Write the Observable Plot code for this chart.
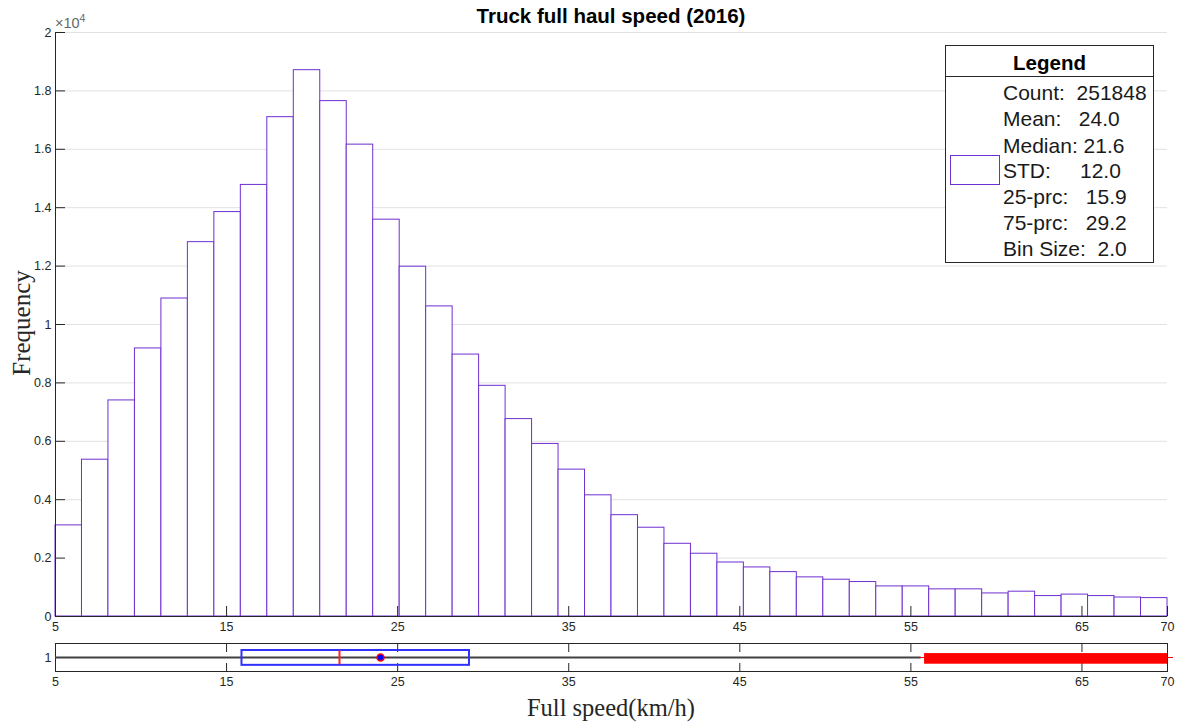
<!DOCTYPE html>
<html><head><meta charset="utf-8">
<script src="https://cdn.jsdelivr.net/npm/d3@7"></script>
<script src="https://cdn.jsdelivr.net/npm/@observablehq/plot@0.6"></script>
<style>
html,body{margin:0;padding:0;background:#fff;overflow:hidden}
#wrap{position:relative;width:1182px;height:725px;font-family:"Liberation Sans",Arial,Helvetica,sans-serif;color:#262626;background:#fff}
.abs{position:absolute;white-space:pre}
#main{position:absolute;left:0;top:0}
#box{position:absolute;left:0;top:636px}
#title{left:55px;width:1112px;top:5.6px;text-align:center;font-weight:bold;font-size:20.5px;line-height:20.5px;color:#000}
#exp{left:55px;top:16px;font-size:14.5px;line-height:14px;color:#666}
#exp sup{font-size:10.5px;vertical-align:6px;line-height:0}
#ylab{left:21px;top:323px;transform:translate(-50%,-50%) rotate(-90deg);font-family:"Liberation Serif","Times New Roman",serif;font-size:25px;line-height:25px;color:#262626}
#xlab{left:55px;width:1112px;top:696px;text-align:center;font-family:"Liberation Serif","Times New Roman",serif;font-size:24.5px;line-height:24px;color:#262626}
#legend{left:945px;top:45px;width:209px;height:218px;box-sizing:border-box;border:1px solid #262626;background:#fff}
#legdiv{left:945px;top:76px;width:209px;height:1px;background:#262626}
#legtitle{left:945px;width:209px;top:51px;text-align:center;font-weight:bold;font-size:20.5px;line-height:24px;color:#000}
.row{left:1003px;font-size:21px;line-height:24px;color:#1a1a1a}
#swatch{left:950px;top:155px;width:50px;height:30px;box-sizing:border-box;border:1.5px solid #6f2fd0;background:#fff}
</style></head><body>
<div id="wrap">
  <div id="main"></div>
  <div id="box"></div>
  <div id="title" class="abs"></div>
  <div id="exp" class="abs">×10<sup>4</sup></div>
  <div id="ylab" class="abs"></div>
  <div id="xlab" class="abs"></div>
  <div id="legend" class="abs"></div>
  <div id="legdiv" class="abs"></div>
  <div id="legtitle" class="abs"></div>
  <div id="swatch" class="abs"></div>
</div>
<script>
// ---- data ----
const titleText = "Truck full haul speed (2016)";
const yLabel = "Frequency";
const xLabel = "Full speed(km/h)";
const binEdges = [5, 6.548, 8.095, 9.643, 11.190, 12.738, 14.286, 15.833, 17.381, 18.929, 20.476,
  22.024, 23.571, 25.119, 26.667, 28.214, 29.762, 31.310, 32.857, 34.405, 35.952,
  37.500, 39.048, 40.595, 42.143, 43.690, 45.238, 46.786, 48.333, 49.881, 51.429,
  52.976, 54.524, 56.071, 57.619, 59.167, 60.714, 62.262, 63.810, 65.357, 66.905, 68.452, 70];
const counts = [3120, 5370, 7400, 9180, 10890, 12820, 13850, 14780, 17100, 18710, 17650,
  16160, 13590, 11980, 10620, 8970, 7900, 6760, 5910, 5030, 4150, 3470, 3040, 2490,
  2150, 1850, 1680, 1520, 1340, 1260, 1180, 1030, 1030, 930, 930, 790, 850, 700, 750,
  700, 650, 630];
const yTicks = [0, 2000, 4000, 6000, 8000, 10000, 12000, 14000, 16000, 18000, 20000];
const xTicks = [5, 15, 25, 35, 45, 55, 65, 70];
const whiskerLow = 5, q1 = 15.9, median = 21.6, mean = 24.0, q3 = 29.2, whiskerHigh = 55.6;
const outlierStart = 55.8, outlierEnd = 70;
const legendTitle = "Legend";
const legendRows = ["Count:  251848", "Mean:   24.0", "Median: 21.6", "STD:     12.0",
  "25-prc:   15.9", "75-prc:   29.2", "Bin Size:  2.0"];
const legendRowCenters = [92.8, 119, 145.7, 171, 196.7, 222.7, 249.3];

// ---- text ----
document.getElementById("title").textContent = titleText;
document.getElementById("ylab").textContent = yLabel;
document.getElementById("xlab").textContent = xLabel;
document.getElementById("legtitle").textContent = legendTitle;
const wrap = document.getElementById("wrap");
legendRows.forEach((t, i) => {
  const d = document.createElement("div");
  d.className = "abs row";
  d.style.top = (legendRowCenters[i] - 11.9) + "px";
  d.textContent = t;
  wrap.appendChild(d);
});

const style = {fontFamily: "'Liberation Sans', Arial, Helvetica, sans-serif", fontSize: "12.5px", color: "#262626", background: "transparent", overflow: "visible"};
const bins = counts.map((c, i) => ({x1: binEdges[i], x2: binEdges[i + 1], count: c}));
const barStroke = "#6f2fd0";

const main = Plot.plot({
  width: 1182, height: 636,
  marginLeft: 55, marginRight: 15, marginTop: 32, marginBottom: 20,
  x: {domain: [5, 70]},
  y: {domain: [0, 20000]},
  style,
  marks: [
    Plot.gridY(yTicks.slice(1), {stroke: "#e2e2e2", strokeOpacity: 1}),
    Plot.rectY(bins, {x1: "x1", x2: "x2", y: "count", fill: "white", stroke: barStroke, strokeWidth: 1}),
    Plot.ruleX([5], {stroke: "#262626"}),
    Plot.ruleY([0], {stroke: "#262626"}),
    Plot.axisY(yTicks, {tickSize: -10, tickPadding: 14, tickFormat: d => String(d / 1e4), label: null}),
    Plot.axisX(xTicks, {tickSize: -10, tickPadding: 16, tickFormat: d => String(d), label: null})
  ]
});
document.getElementById("main").appendChild(main);

const box = Plot.plot({
  width: 1182, height: 89,
  marginLeft: 55, marginRight: 15, marginTop: 7, marginBottom: 54,
  x: {domain: [5, 70]},
  y: {domain: [0.5, 1.5]},
  style,
  marks: [
    Plot.frame({stroke: "#262626"}),
    Plot.axisX(xTicks, {anchor: "top", tickSize: -8, tickFormat: () => "", label: null}),
    Plot.axisX(xTicks, {anchor: "bottom", tickSize: -8, tickPadding: 14, tickFormat: d => String(d), label: null}),
    Plot.axisY([1], {tickSize: -10, tickPadding: 14, tickFormat: d => String(d), label: null}),
    Plot.ruleY([1], {x1: whiskerLow, x2: whiskerHigh, stroke: "#404040", strokeWidth: 2}),
    Plot.ruleY([1], {x1: outlierStart - 0.3, x2: outlierEnd + 0.35, stroke: "#ff0000", strokeWidth: 1}),
    Plot.rect([outlierStart], {x1: outlierStart, x2: outlierEnd, y1: 0.76, y2: 1.14, fill: "#ff0000"}),
    Plot.rect([q1], {x1: q1, x2: q3, y1: 0.72, y2: 1.25, fill: "none", stroke: "#3030ff", strokeWidth: 2}),
    Plot.ruleX([median], {y1: 0.74, y2: 1.24, stroke: "#ff2020", strokeWidth: 2}),
    Plot.dot([mean], {x: d => d, y: 1, r: 3.5, fill: "#0000ff", stroke: "#ff0000", strokeWidth: 1.5})
  ]
});
document.getElementById("box").appendChild(box);
</script>
</body></html>
